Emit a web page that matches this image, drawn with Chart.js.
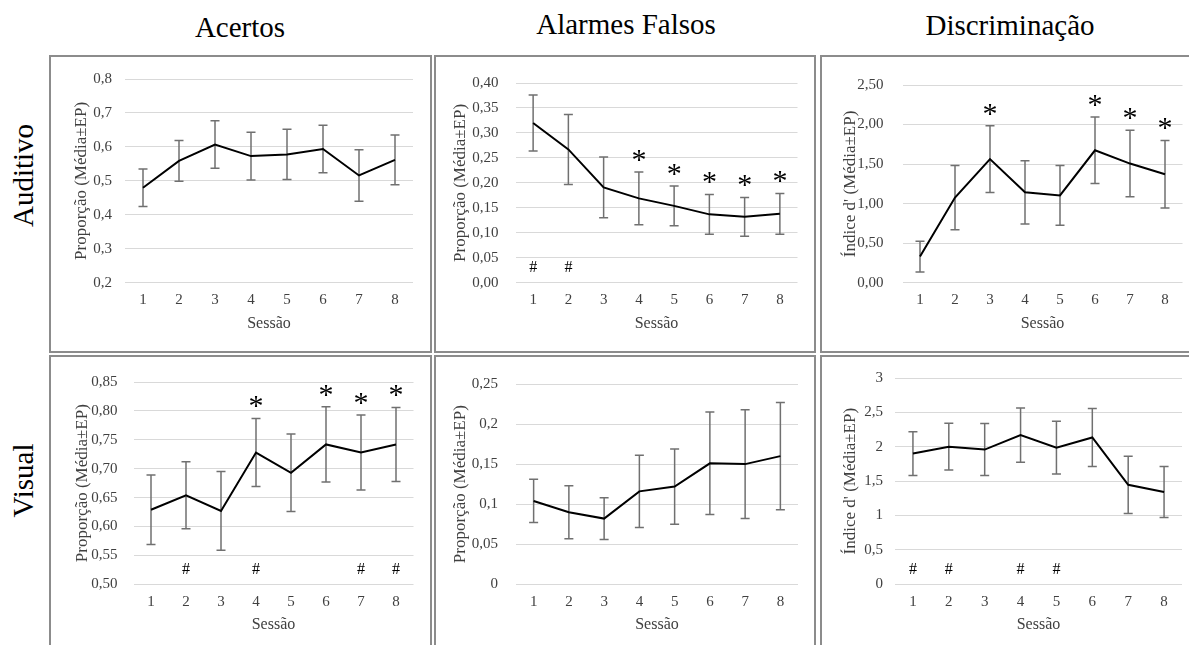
<!DOCTYPE html>
<html>
<head>
<meta charset="utf-8">
<script src="https://cdn.jsdelivr.net/npm/chart.js@4.4.0/dist/chart.umd.min.js"></script>
<style>
  html, body { margin: 0; padding: 0; background: #fff; }
  body { width: 1189px; height: 645px; overflow: hidden; position: relative; font-family: 'Liberation Serif', 'Times New Roman', serif; }
  .painel { position: absolute; box-sizing: border-box; border: 2px solid #8c8c8c; background: #fff; }
  .painel canvas { position: absolute; left: 0; top: 0; }
  .titulo { position: absolute; width: 400px; text-align: center; font-size: 29px; line-height: 29px; color: #000; }
  .linha { position: absolute; width: 200px; height: 29px; text-align: center; font-size: 29px; line-height: 29px; color: #000; transform: rotate(-90deg); }
</style>
</head>
<body>

<div class="titulo" style="left:40px;top:12.7px">Acertos</div>
<div class="titulo" style="left:426px;top:9.7px">Alarmes Falsos</div>
<div class="titulo" style="left:810px;top:10.7px">Discriminação</div>
<div class="linha" style="left:-77px;top:160.5px">Auditivo</div>
<div class="linha" style="left:-77px;top:465.5px">Visual</div>

<div class="painel" id="p1" style="left:49px;top:55px;width:383px;height:298px"><canvas id="g1"></canvas></div>
<div class="painel" id="p2" style="left:434px;top:55px;width:382px;height:298px"><canvas id="g2"></canvas></div>
<div class="painel" id="p3" style="left:820px;top:55px;width:390px;height:298px"><canvas id="g3"></canvas></div>
<div class="painel" id="p4" style="left:49px;top:355px;width:383px;height:300px"><canvas id="g4"></canvas></div>
<div class="painel" id="p5" style="left:434px;top:355px;width:382px;height:300px"><canvas id="g5"></canvas></div>
<div class="painel" id="p6" style="left:820px;top:355px;width:390px;height:300px"><canvas id="g6"></canvas></div>

<script>
// DADOS
const sessoes = ['1', '2', '3', '4', '5', '6', '7', '8'];

const acertosAud   = [0.480, 0.559, 0.607, 0.573, 0.578, 0.594, 0.516, 0.562];
const acertosAudEP = [0.055, 0.060, 0.070, 0.070, 0.074, 0.070, 0.076, 0.073];

const alarmesAud   = [0.320, 0.267, 0.191, 0.169, 0.154, 0.137, 0.132, 0.138];
const alarmesAudEP = [0.056, 0.070, 0.061, 0.053, 0.040, 0.040, 0.039, 0.041];

const discrAud   = [0.331, 1.077, 1.563, 1.144, 1.104, 1.675, 1.507, 1.372];
const discrAudEP = [0.193, 0.405, 0.421, 0.400, 0.377, 0.420, 0.420, 0.428];

const acertosVis   = [0.629, 0.654, 0.627, 0.728, 0.693, 0.742, 0.728, 0.742];
const acertosVisEP = [0.060, 0.058, 0.068, 0.059, 0.067, 0.065, 0.065, 0.064];

const alarmesVis   = [0.104, 0.090, 0.082, 0.116, 0.122, 0.151, 0.150, 0.160];
const alarmesVisEP = [0.027, 0.033, 0.026, 0.045, 0.047, 0.064, 0.068, 0.067];

const discrVis   = [1.901, 2.001, 1.959, 2.169, 1.987, 2.135, 1.447, 1.342];
const discrVisEP = [0.318, 0.340, 0.378, 0.395, 0.383, 0.423, 0.416, 0.370];

// sessões marcadas com * e #
const astAlarmesAud = [4, 5, 6, 7, 8];
const astDiscrAud   = [3, 6, 7, 8];
const astAcertosVis = [4, 6, 7, 8];
const hashAlarmesAud = [1, 2];
const hashAcertosVis = [2, 4, 7, 8];
const hashDiscrVis   = [1, 2, 4, 5];

// rótulos dos eixos y (de baixo para cima)
const ticksAcertosAud = ['0,2', '0,3', '0,4', '0,5', '0,6', '0,7', '0,8'];
const ticksAlarmesAud = ['0,00', '0,05', '0,10', '0,15', '0,20', '0,25', '0,30', '0,35', '0,40'];
const ticksDiscrAud   = ['0,00', '0,50', '1,00', '1,50', '2,00', '2,50'];
const ticksAcertosVis = ['0,50', '0,55', '0,60', '0,65', '0,70', '0,75', '0,80', '0,85'];
const ticksAlarmesVis = ['0', '0,05', '0,1', '0,15', '0,2', '0,25'];
const ticksDiscrVis   = ['0', '0,5', '1', '1,5', '2', '2,5', '3'];

const tituloProp = 'Proporção (Média±EP)';
const tituloDisc = "Índice d' (Média±EP)";

Chart.defaults.font.family = "'Liberation Serif', 'Times New Roman', serif";
Chart.defaults.devicePixelRatio = 1;

// barras de erro, asteriscos e cerquilhas
const marcas = {
    id: 'marcas',
    beforeDatasetsDraw: function (chart, args, opts) {
        const ctx = chart.ctx, x = chart.scales.x, y = chart.scales.y;
        const serie = chart.data.datasets[0].data;
        ctx.save();
        ctx.strokeStyle = '#707070';
        ctx.lineWidth = 1.5;
        serie.forEach(function (v, i) {
            const px = x.getPixelForValue(i);
            const cima = y.getPixelForValue(v + opts.ep[i]);
            const baixo = y.getPixelForValue(v - opts.ep[i]);
            ctx.beginPath();
            ctx.moveTo(px, cima); ctx.lineTo(px, baixo);
            ctx.moveTo(px - 4.5, cima); ctx.lineTo(px + 4.5, cima);
            ctx.moveTo(px - 4.5, baixo); ctx.lineTo(px + 4.5, baixo);
            ctx.stroke();
        });
        ctx.restore();
    },
    afterDatasetsDraw: function (chart, args, opts) {
        const ctx = chart.ctx, x = chart.scales.x, y = chart.scales.y;
        const serie = chart.data.datasets[0].data;
        ctx.save();
        ctx.fillStyle = '#000';
        ctx.textAlign = 'center';
        ctx.textBaseline = 'middle';
        ctx.font = "30px 'Liberation Serif'";
        (opts.ast || []).forEach(function (s) {
            const i = sessoes.indexOf(String(s));
            const px = x.getPixelForValue(i);
            const py = y.getPixelForValue(serie[i] + opts.ep[i]) - 11;
            ctx.fillText('*', px, py);
        });
        ctx.font = "16px 'Liberation Serif'";
        (opts.hash || []).forEach(function (s) {
            const i = sessoes.indexOf(String(s));
            const px = x.getPixelForValue(i);
            ctx.fillText('#', px, chart.chartArea.bottom - 15);
        });
        ctx.restore();
    }
};

function grafico(id, painel, serie, ep, min, max, passo, rotulos, tituloY, ast, hash, area) {
    const caixa = document.getElementById(painel);
    const cl = caixa.offsetLeft + 2, ct = caixa.offsetTop + 2;
    const cw = caixa.offsetWidth - 4, ch = caixa.offsetHeight - 4;
    const canvas = document.getElementById(id);
    canvas.width = cw;
    canvas.height = ch;

    const lhTitulo = 17 * 1.2;
    const padEsq = area.tx - cl - lhTitulo / 2;
    const largY = area.l - cl - padEsq;
    const altX = 40.5 + 16 * 1.2 / 2;
    const padBaixo = ct + ch - area.b - altX;

    new Chart(canvas, {
        type: 'line',
        data: {
            labels: sessoes,
            datasets: [{
                data: serie,
                borderColor: '#000',
                borderWidth: 2,
                pointRadius: 0,
                tension: 0,
                fill: false
            }]
        },
        options: {
            responsive: false,
            animation: false,
            events: [],
            layout: {
                padding: { left: padEsq, right: cl + cw - area.r, top: area.t - ct, bottom: padBaixo }
            },
            plugins: {
                legend: { display: false },
                tooltip: { enabled: false },
                marcas: { ep: ep, ast: ast, hash: hash }
            },
            scales: {
                x: {
                    offset: true,
                    grid: { display: false, drawTicks: false },
                    border: { display: false },
                    ticks: { color: '#404040', font: { size: 15 }, padding: 8.5, maxRotation: 0 },
                    title: { display: true, text: 'Sessão', color: '#404040', font: { size: 16 }, padding: 0 },
                    afterFit: function (scale) { scale.height = altX; }
                },
                y: {
                    min: min,
                    max: max,
                    grid: { color: '#d9d9d9', lineWidth: 1, drawTicks: false },
                    border: { display: false },
                    ticks: {
                        stepSize: passo,
                        color: '#404040',
                        font: { size: 15 },
                        padding: area.tp,
                        callback: function (v, i) { return rotulos[i]; }
                    },
                    title: { display: true, text: tituloY, color: '#404040', font: { size: 17 }, padding: 0 },
                    afterFit: function (scale) { scale.width = largY; }
                }
            }
        },
        plugins: [marcas]
    });
}

grafico('g1', 'p1', acertosAud, acertosAudEP, 0.2, 0.8, 0.1, ticksAcertosAud, tituloProp, [], [],
    { l: 125, r: 413, t: 73.8, b: 282.8, tx: 81.5, tp: 13 });
grafico('g2', 'p2', alarmesAud, alarmesAudEP, 0, 0.4, 0.05, ticksAlarmesAud, tituloProp, astAlarmesAud, hashAlarmesAud,
    { l: 515.5, r: 797.5, t: 73.8, b: 282.8, tx: 461, tp: 17 });
grafico('g3', 'p3', discrAud, discrAudEP, 0, 2.5, 0.5, ticksDiscrAud, tituloDisc, astDiscrAud, [],
    { l: 902.5, r: 1182.5, t: 73.8, b: 282.8, tx: 851, tp: 19 });
grafico('g4', 'p4', acertosVis, acertosVisEP, 0.5, 0.85, 0.05, ticksAcertosVis, tituloProp, astAcertosVis, hashAcertosVis,
    { l: 133.5, r: 413.5, t: 375.5, b: 584.3, tx: 82.5, tp: 16 });
grafico('g5', 'p5', alarmesVis, alarmesVisEP, 0, 0.25, 0.05, ticksAlarmesVis, tituloProp, [], [],
    { l: 516, r: 798, t: 375.5, b: 584.3, tx: 461, tp: 18 });
grafico('g6', 'p6', discrVis, discrVisEP, 0, 3, 0.5, ticksDiscrVis, tituloDisc, [], hashDiscrVis,
    { l: 895, r: 1182, t: 375.5, b: 584.3, tx: 851, tp: 12 });
</script>
</body>
</html>
